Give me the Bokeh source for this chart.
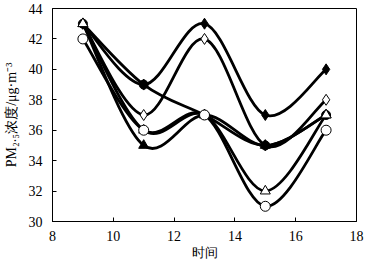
from bokeh.plotting import figure
from bokeh.models import FixedTicker, Range1d
from bokeh.embed import file_html
from bokeh.resources import INLINE

# data
x_vals = [9, 11, 13, 15, 17]
s_filled_diamond = [43, 39, 43, 37, 40]
s_open_diamond = [43, 37, 42, 35, 38]
s_filled_circle = [43, 39, 37, 35, 37]
s_filled_triangle = [43, 35, 37, 35, 37]
s_open_triangle = [43, 36, 37, 32, 37]
s_open_circle = [42, 36, 37, 31, 36]
x_ticks = [8, 10, 12, 14, 16, 18]
y_ticks = [30, 32, 34, 36, 38, 40, 42, 44]

series = [
    (s_filled_diamond, "diamond", "black", 11),
    (s_open_diamond, "diamond", "white", 11),
    (s_filled_circle, "circle", "black", 9),
    (s_filled_triangle, "triangle", "black", 10),
    (s_open_triangle, "triangle", "white", 10),
    (s_open_circle, "circle", "white", 10),
]

p = figure(width=368, height=264, output_backend="svg", toolbar_location=None,
           x_range=Range1d(8, 18), y_range=Range1d(30, 44),
           min_border_left=47, min_border_right=12, min_border_top=8, min_border_bottom=43)
p.background_fill_color = "white"
p.border_fill_color = "white"
p.xgrid.visible = False
p.ygrid.visible = False
p.outline_line_color = "black"
p.outline_line_width = 1


def smooth_segments(xs, ys):
    n = len(xs)
    x0, y0, x1, y1, cx0, cy0, cx1, cy1 = [], [], [], [], [], [], [], []
    for i in range(n - 1):
        pa = i - 1 if i > 0 else i
        pd = i + 2 if i + 2 < n else i + 1
        x0.append(xs[i]); y0.append(ys[i])
        x1.append(xs[i + 1]); y1.append(ys[i + 1])
        cx0.append(xs[i] + (xs[i + 1] - xs[pa]) / 6.0)
        cy0.append(ys[i] + (ys[i + 1] - ys[pa]) / 6.0)
        cx1.append(xs[i + 1] - (xs[pd] - xs[i]) / 6.0)
        cy1.append(ys[i + 1] - (ys[pd] - ys[i]) / 6.0)
    return dict(x0=x0, y0=y0, x1=x1, y1=y1, cx0=cx0, cy0=cy0, cx1=cx1, cy1=cy1)


for ys, marker, fill, size in series:
    seg = smooth_segments(x_vals, ys)
    p.bezier(x0=seg["x0"], y0=seg["y0"], x1=seg["x1"], y1=seg["y1"],
             cx0=seg["cx0"], cy0=seg["cy0"], cx1=seg["cx1"], cy1=seg["cy1"],
             line_color="black", line_width=2.8)

for ys, marker, fill, size in series:
    p.scatter(x_vals, ys, marker=marker, size=size, fill_color=fill,
              line_color="black", line_width=1)

p.xaxis.ticker = FixedTicker(ticks=x_ticks)
p.yaxis.ticker = FixedTicker(ticks=y_ticks)
for ax in (p.xaxis, p.yaxis):
    ax.major_tick_in = 4
    ax.major_tick_out = 0
    ax.minor_tick_line_color = None
    ax.axis_line_color = "black"
    ax.major_tick_line_color = "black"
    ax.major_label_text_font = "Liberation Serif"
    ax.major_label_text_font_size = "14px"
    ax.major_label_text_color = "black"
    ax.major_label_standoff = 10
    ax.axis_label_text_font = "Liberation Serif"
    ax.axis_label_text_font_style = "normal"
    ax.axis_label_text_color = "black"

p.xaxis.major_label_standoff = 9
p.xaxis.axis_label = "时间"
p.xaxis.axis_label_text_font_size = "13px"
p.xaxis.axis_label_standoff = 1
p.yaxis.axis_label = "PM₂.₅浓度/μg·m⁻³"
p.yaxis.axis_label_text_font_size = "14px"
p.yaxis.axis_label_standoff = 7

open("out.html", "w").write(file_html(p, INLINE))
